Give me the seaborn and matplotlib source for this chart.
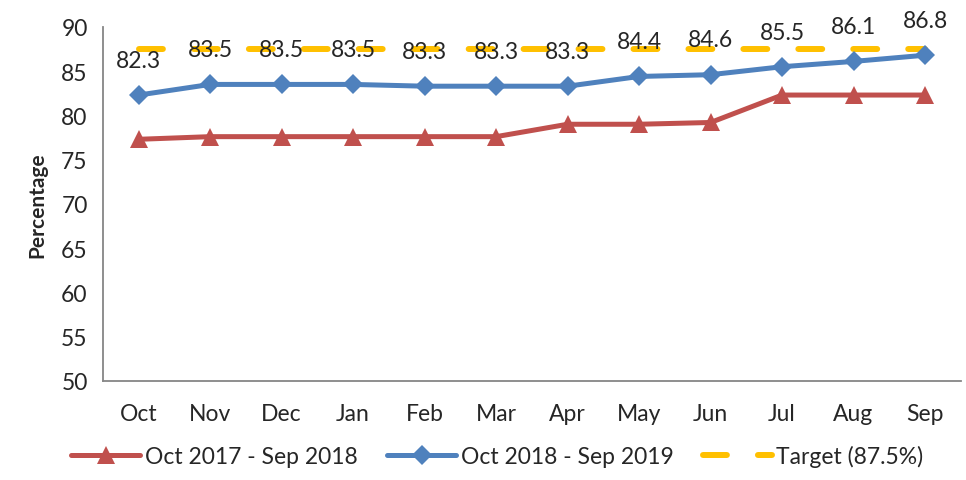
import numpy as np
import pandas as pd
import seaborn as sns
from matplotlib import pyplot as plt

# data
months = ['Oct', 'Nov', 'Dec', 'Jan', 'Feb', 'Mar', 'Apr', 'May', 'Jun', 'Jul', 'Aug', 'Sep']
prev_year = [77.3, 77.6, 77.6, 77.6, 77.6, 77.6, 79.0, 79.0, 79.2, 82.3, 82.3, 82.3]
curr_year = [82.3, 83.5, 83.5, 83.5, 83.3, 83.3, 83.3, 84.4, 84.6, 85.5, 86.1, 86.8]
target = [87.5] * len(months)
series_names = ['Oct 2017 - Sep 2018', 'Oct 2018 - Sep 2019', 'Target (87.5%)']

sns.set_style('white')
plt.rcParams['font.family'] = ['Lato', 'DejaVu Sans']
fs = 16.5

pos = np.arange(len(months))
df = pd.DataFrame({
    'pos': np.concatenate([pos, pos]),
    'value': prev_year + curr_year,
    'series': [series_names[0]] * len(months) + [series_names[1]] * len(months),
})

fig = plt.figure(figsize=(9.66, 4.81), dpi=100)
ax = fig.add_axes([0.1066, 0.206, 0.888, 0.736])

# target line first so the labels sit on top
sns.lineplot(x=pos, y=target, ax=ax, color='#FFC000', lw=4.3, sort=False,
             label=series_names[2], zorder=1)
ax.lines[-1].set_linestyle((0, (4.0, 5.2)))
ax.lines[-1].set_dash_capstyle('round')

sns.lineplot(data=df, x='pos', y='value', hue='series', style='series',
             palette={series_names[0]: '#C0504D', series_names[1]: '#4F81BD'},
             markers={series_names[0]: '^', series_names[1]: 'D'},
             dashes=False, sort=False, lw=3.6, markersize=13, markeredgewidth=0,
             ax=ax, zorder=3)
# diamonds a bit smaller than the triangles
for ln in ax.lines:
    if ln.get_marker() == 'D':
        ln.set_markersize(10.5)

# data labels for this year's series
for x, v in zip(pos, curr_year):
    ax.annotate(f'{v:.1f}', (x, v), xytext=(0, 25), textcoords='offset points',
                ha='center', va='center', fontsize=fs, zorder=4)

ax.set_xlim(-0.5, len(months) - 0.5)
ax.set_ylim(50, 90)
ax.set_yticks(range(50, 91, 5))
ax.set_xticks(pos)
ax.set_xticklabels(months)
ax.set_xticks(np.arange(-0.5, len(months), 1), minor=True)
ax.tick_params(axis='x', which='major', length=0, pad=16, labelsize=fs)
ax.tick_params(axis='x', which='minor', length=7, color='#868686', width=1.3, direction='out')
ax.tick_params(axis='y', length=7, color='#868686', width=1.3, direction='out', labelsize=fs, pad=4)
ax.set_xlabel('')
ax.set_ylabel('Percentage', fontsize=15, fontweight='bold', labelpad=10)

sns.despine(ax=ax)
for s in ['left', 'bottom']:
    ax.spines[s].set_color('#868686')
    ax.spines[s].set_linewidth(1.3)

handles, labels = ax.get_legend_handles_labels()
order = [labels.index(n) for n in series_names]
ax.get_legend().remove()
leg = fig.legend([handles[i] for i in order], series_names, loc='lower center',
                 bbox_to_anchor=(0.515, -0.015), ncol=3, frameon=False, fontsize=fs,
                 handlelength=3.0, columnspacing=1.3, handletextpad=0.2)
for h in leg.legend_handles:
    if h.get_marker() == 'D':
        h.set_markersize(10.5)

fig.savefig('out.png', dpi=100)
